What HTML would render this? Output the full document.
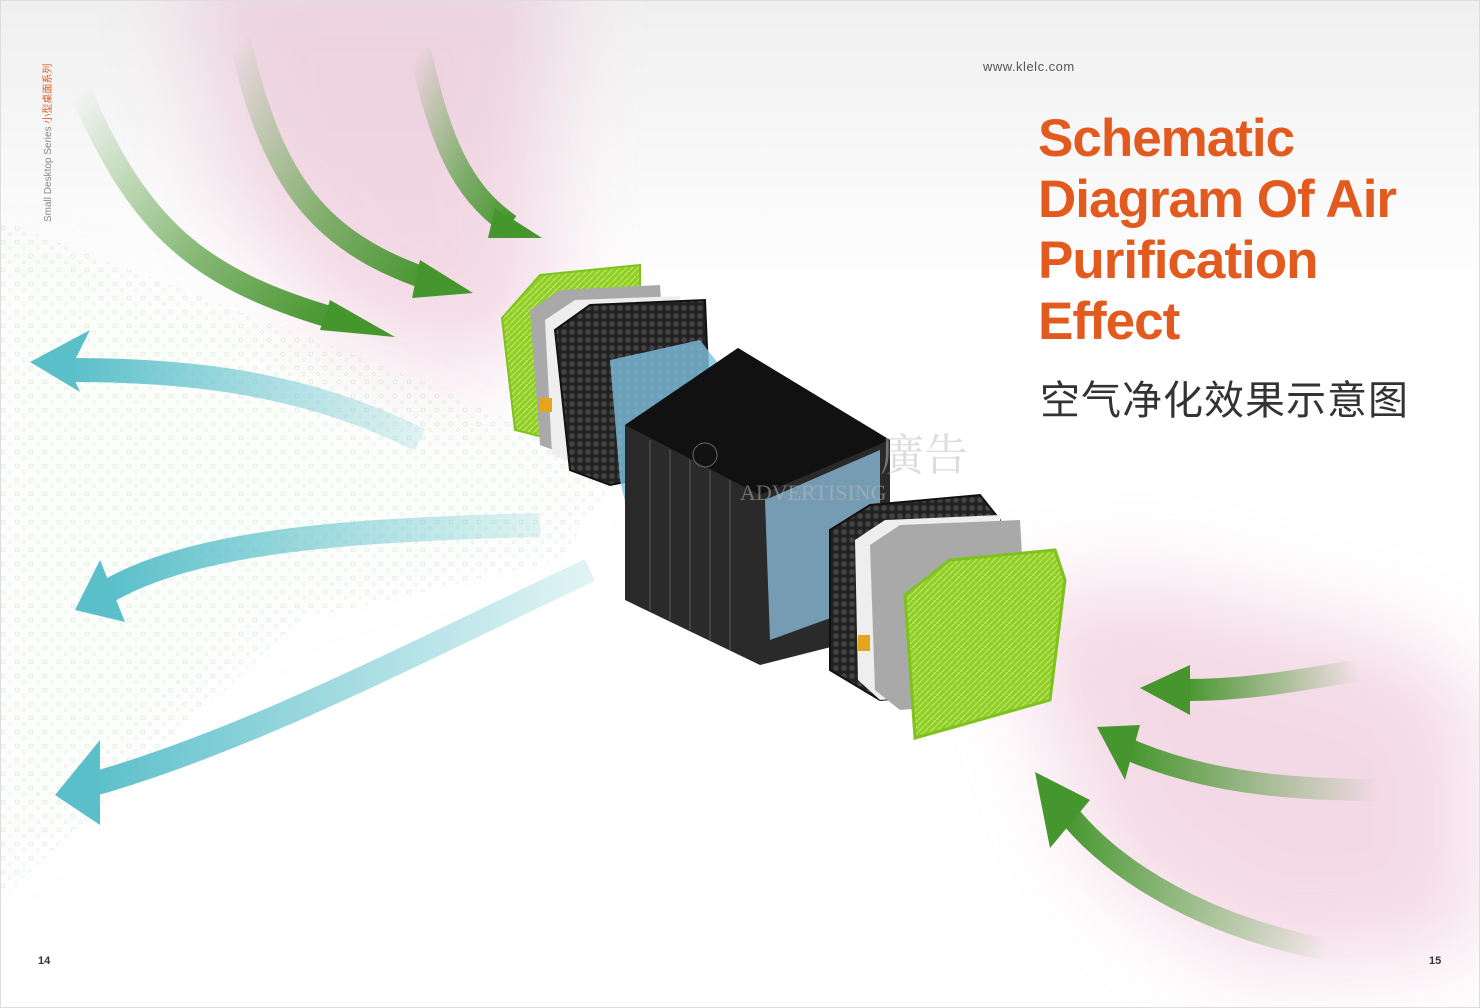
<!DOCTYPE html>
<html><head><meta charset="utf-8"><style>
html,body{margin:0;padding:0;background:#fff;}
#p{position:relative;width:1480px;height:1008px;overflow:hidden;background:#fff;font-family:"Liberation Sans","Noto Sans CJK SC",sans-serif;}
svg{position:absolute;left:0;top:0;}
.t{position:absolute;color:#e35a1f;font-weight:bold;font-size:53px;line-height:61px;left:1038px;top:108px;letter-spacing:-1px;}
.cn{position:absolute;left:1040px;top:368px;font-size:40px;color:#333;font-family:"Noto Sans CJK SC",sans-serif;letter-spacing:1px;}
.url{position:absolute;left:983px;top:59px;font-size:13px;color:#555;letter-spacing:0.5px;}
.side{position:absolute;left:39px;top:222px;transform:rotate(-90deg);transform-origin:0 0;font-size:10px;color:#888;white-space:nowrap;font-family:"Liberation Sans","Noto Sans CJK SC",sans-serif;}
.pn{position:absolute;top:955px;font-size:11px;font-weight:bold;color:#333;}
</style></head><body><div id="p">
<svg width="1480" height="1008" viewBox="0 0 1480 1008">
<defs>
<filter id="bl" filterUnits="userSpaceOnUse" x="-300" y="-300" width="2100" height="1600"><feGaussianBlur stdDeviation="45"/></filter>
<filter id="bl3" filterUnits="userSpaceOnUse" x="-300" y="-300" width="2100" height="1600"><feGaussianBlur stdDeviation="25"/></filter>
<linearGradient id="bg" x1="0" y1="0" x2="0" y2="1"><stop offset="0" stop-color="#f0f0f0"/><stop offset="0.3" stop-color="#fff"/></linearGradient>
<linearGradient id="g1" x1="0" y1="0" x2="1" y2="1"><stop offset="0" stop-color="#4e9a36" stop-opacity="0"/><stop offset="0.6" stop-color="#4e9a36" stop-opacity="0.7"/><stop offset="1" stop-color="#46962e"/></linearGradient>
<linearGradient id="g2" x1="1" y1="0" x2="0" y2="0"><stop offset="0" stop-color="#4e9a36" stop-opacity="0"/><stop offset="1" stop-color="#46962e"/></linearGradient>
<linearGradient id="b1" x1="1" y1="0" x2="0" y2="0"><stop offset="0" stop-color="#6cc7cf" stop-opacity="0.2"/><stop offset="1" stop-color="#5bbfca"/></linearGradient>
<pattern id="dots" width="14" height="14" patternUnits="userSpaceOnUse"><circle cx="3" cy="4" r="2" fill="none" stroke="#9c9" stroke-width="0.6"/><circle cx="10" cy="10" r="1.5" fill="none" stroke="#aca" stroke-width="0.5"/></pattern>
<pattern id="hx" width="8" height="8" patternUnits="userSpaceOnUse"><rect width="8" height="8" fill="#222"/><circle cx="4" cy="4" r="2.8" fill="#444"/></pattern>
<pattern id="gr" width="6" height="6" patternUnits="userSpaceOnUse"><rect width="6" height="6" fill="#8fce2a"/><path d="M0 6L6 0" stroke="#b7e354" stroke-width="1.5"/></pattern>
</defs>
<rect x="0" y="0" width="1480" height="1008" fill="url(#bg)"/>
<!-- haze -->
<g filter="url(#bl)" opacity="0.45">
<path d="M180 -50 L560 -50 L540 200 L560 320 L470 380 L330 330 L230 200 Z" fill="#e6adc8"/>
<path d="M1000 600 L1150 580 L1400 640 L1480 700 L1480 950 L1250 970 L1100 870 Z" fill="#e6adc8"/>
</g>
<!-- particles -->
<path d="M0 220 L420 380 L620 470 L560 560 L300 620 L0 900 Z" fill="url(#dots)" opacity="0.55" filter="url(#bl3)"/>
<path d="M0 220 L420 380 L620 470 L560 560 L300 620 L0 900 Z" fill="url(#dots)" opacity="0.5"/>
<!-- green arrows top-left -->
<g fill="none" stroke="url(#g1)" stroke-width="22" stroke-linecap="butt">
<path d="M80 90 C140 230 200 280 340 320"/>
<path d="M240 40 C270 170 310 240 430 280"/>
<path d="M420 50 C440 140 460 190 510 225"/>
</g>
<g fill="#46962e">
<polygon points="330,300 395,337 320,330"/>
<polygon points="420,260 473,293 412,298"/>
<polygon points="495,208 542,238 488,238"/>
</g>
<!-- green arrows bottom-right -->
<g fill="none" stroke="url(#g2)" stroke-width="22">
<path d="M1360 670 C1300 680 1250 690 1185 690"/>
<path d="M1380 790 C1280 790 1200 780 1130 750"/>
<path d="M1330 950 C1220 930 1120 880 1065 810"/>
</g>
<g fill="#46962e">
<polygon points="1190,665 1140,688 1190,715"/>
<polygon points="1140,725 1097,727 1125,780"/>
<polygon points="1035,772 1050,848 1090,800"/>
</g>
<!-- blue arrows -->
<g fill="none" stroke="url(#b1)" stroke-width="24">
<path d="M420 440 C300 380 180 370 70 370"/>
<path d="M540 525 C350 530 200 540 110 590"/>
<path d="M590 570 C420 650 250 740 90 785"/>
</g>
<g fill="#5bbfca">
<polygon points="90,330 30,362 80,392 70,370"/>
<polygon points="100,560 75,610 125,622"/>
<polygon points="100,740 55,795 100,825"/>
</g>
<!-- left green filter -->
<polygon points="502,318 540,275 640,265 640,420 555,440 515,430" fill="url(#gr)" stroke="#7fc21f" stroke-width="2"/>
<polygon points="530,310 560,290 660,285 670,445 580,460 540,445" fill="#a9a9a9"/>
<polygon points="545,320 575,300 680,296 690,460 590,470 552,455" fill="#eee"/>
<rect x="540" y="398" width="12" height="14" fill="#e2a51b"/>
<polygon points="555,330 590,305 705,300 712,465 610,485 570,470" fill="url(#hx)" stroke="#111" stroke-width="2"/>
<!-- cylinder -->
<polygon points="610,360 700,340 870,560 850,610 650,610 620,480" fill="#7fc0e0" opacity="0.8"/>
<!-- center box -->
<polygon points="625,425 738,348 890,440 890,632 760,665 625,600" fill="#2a2a2a"/>
<polygon points="625,425 738,348 890,440 760,495" fill="#111"/>
<g stroke="#444" stroke-width="2">
<line x1="650" y1="440" x2="650" y2="610"/><line x1="670" y1="450" x2="670" y2="620"/><line x1="690" y1="460" x2="690" y2="630"/><line x1="710" y1="470" x2="710" y2="640"/><line x1="730" y1="480" x2="730" y2="650"/>
</g>
<polygon points="765,500 880,450 880,600 770,640" fill="#8ab9d6" opacity="0.8"/>
<circle cx="705" cy="455" r="12" fill="none" stroke="#666"/>
<!-- right filters -->
<polygon points="830,530 870,505 980,495 1000,520 1000,690 880,700 830,670" fill="url(#hx)" stroke="#111" stroke-width="2"/>
<polygon points="855,540 885,520 1000,515 1010,690 880,700 858,680" fill="#eee"/>
<polygon points="870,545 900,525 1020,520 1030,700 900,710 875,690" fill="#a9a9a9"/>
<rect x="858" y="635" width="12" height="16" fill="#e2a51b"/>
<polygon points="905,595 950,560 1055,550 1065,580 1050,700 915,738" fill="url(#gr)" stroke="#7fc21f" stroke-width="3"/>
<!-- watermark -->
<text x="880" y="470" font-size="44" fill="#bbb" opacity="0.5" font-family="Noto Serif CJK SC">廣告</text>
<text x="740" y="500" font-size="22" fill="#bbb" opacity="0.5" font-family="Liberation Serif">ADVERTISING</text>
<rect x="0.5" y="0.5" width="1479" height="1007" fill="none" stroke="#ddd"/>
</svg>
<div class="url">www.klelc.com</div>
<div class="t">Schematic<br>Diagram Of Air<br>Purification<br>Effect</div>
<div class="cn">空气净化效果示意图</div>
<div class="side">Small Desktop Series <span style="color:#e35a1f">小型桌面系列</span></div>
<div class="pn" style="left:38px">14</div>
<div class="pn" style="left:1429px">15</div>
</div></body></html>
